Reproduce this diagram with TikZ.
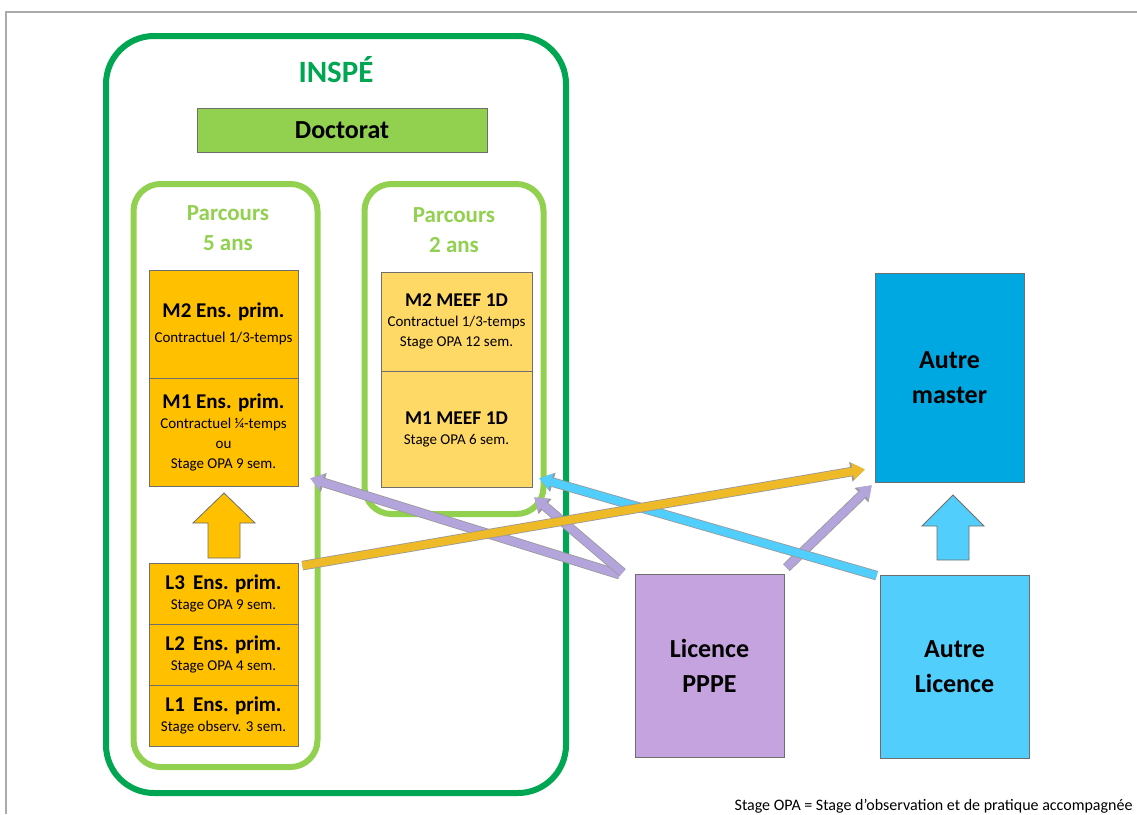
\documentclass[tikz,border=0pt]{standalone}
\usepackage{fontspec}
\setmainfont{Carlito}
\usetikzlibrary{arrows.meta}
\definecolor{inspegreen}{RGB}{0,166,81}
\definecolor{lightgreen}{RGB}{146,208,80}
\definecolor{ensorange}{RGB}{255,192,0}
\definecolor{meeforange}{RGB}{255,217,102}
\definecolor{masterblue}{RGB}{0,168,226}
\definecolor{licblue}{RGB}{82,206,252}
\definecolor{pppeviolet}{RGB}{197,163,222}
\definecolor{violetarrow}{RGB}{180,164,220}
\definecolor{goldarrow}{RGB}{238,186,40}
\definecolor{boxline}{RGB}{110,110,110}
\newcommand{\ttl}[1]{{\fontsize{21}{20}\selectfont\bfseries #1}}
\newcommand{\ttlm}[1]{{\fontsize{19.5}{20}\selectfont\bfseries #1}}

\begin{document}
\begin{tikzpicture}[x=1pt,y=-1pt]
	\tikzstyle{inspeframe} = [draw=inspegreen,line width=6pt,rounded corners=48pt,minimum width=460pt,minimum height=757pt]
	\tikzstyle{parcoursframe} = [draw=lightgreen,line width=6pt,rounded corners=27pt]
	\tikzstyle{ensbox} = [draw=boxline,line width=0.8pt,fill=ensorange,minimum width=149pt,inner sep=0pt,align=center,font=\fontsize{15}{20}\selectfont]
	\tikzstyle{meefbox} = [ensbox,fill=meeforange,minimum width=151pt]
	\tikzstyle{bigbox} = [draw=boxline,line width=0.8pt,minimum width=149pt,minimum height=183pt,align=center,font=\fontsize{26}{35}\selectfont\bfseries]
	\tikzstyle{flow} = [line width=8pt,-{Triangle[length=12pt,width=17pt,line width'=0pt]},preaction={draw=boxline!70,line width=9.6pt,-{Triangle[length=14pt,width=20pt,line width'=0pt]}}]
	\tikzstyle{upblock} = [draw=boxline,line width=0.8pt]
	
	\useasboundingbox (0,0) rectangle (1137,814);
	\draw[black!33,line width=2pt] (1137,12) -- (6,12) -- (6,814);
	
	\node[inspeframe] (inspe) at (336,414.5) {};
	\node[parcoursframe,minimum width=184pt,minimum height=583pt] (p5) at (225.5,475.5) {};
	\node[parcoursframe,minimum width=179pt,minimum height=330pt] (p2) at (454,349) {};
	
	\node[text=inspegreen,font=\fontsize{31}{36}\selectfont\bfseries] (inspetitle) at (336,70) {INSPÉ};
	\node[draw=boxline,line width=0.8pt,fill=lightgreen,minimum width=290pt,minimum height=44pt,font=\fontsize{26}{28}\selectfont\bfseries] (doct) at (342,130) {Doctorat};
	\node[text=lightgreen,align=center,font=\fontsize{23}{30}\selectfont\bfseries] (p5title) at (228,228) {Parcours\\5 ans};
	\node[text=lightgreen,align=center,font=\fontsize{23}{30}\selectfont\bfseries] (p2title) at (454,230) {Parcours\\2 ans};
	
	\node[ensbox,minimum height=108pt] (m2ens) at (223.5,324) {\ttl{M2 Ens. prim.}\\[5pt]Contractuel 1/3-temps};
	\node[ensbox,minimum height=108pt] (m1ens) at (223.5,432) {\ttl{M1 Ens. prim.}\\Contractuel ¼-temps\\ou\\Stage OPA 9 sem.};
	\node[ensbox,minimum height=61pt] (l3ens) at (223.5,593.5) {\ttl{L3\, Ens. prim.}\\Stage OPA 9 sem.};
	\node[ensbox,minimum height=61pt] (l2ens) at (223.5,654.5) {\ttl{L2\, Ens. prim.}\\Stage OPA 4 sem.};
	\node[ensbox,minimum height=61pt] (l1ens) at (223.5,715.5) {\ttl{L1\, Ens. prim.}\\Stage observ. 3 sem.};
	
	\node[meefbox,minimum height=99pt] (m2meef) at (456.5,321.5) {\ttlm{M2 MEEF 1D}\\Contractuel 1/3-temps\\Stage OPA 12 sem.};
	\node[meefbox,minimum height=116pt] (m1meef) at (456.5,429) {\ttlm{M1 MEEF 1D}\\Stage OPA 6 sem.};
	
	\node[bigbox,fill=masterblue,minimum height=209pt] (master) at (949.5,377.5) {Autre\\master};
	\node[bigbox,fill=pppeviolet] (pppe) at (709.5,665.5) {Licence\\PPPE};
	\node[bigbox,fill=licblue] (autrelic) at (954.5,666.5) {Autre\\Licence};
	
	\coordinate (ensup) at (224,493);
	\coordinate (licup) at (953,495);
	\draw[upblock,fill=ensorange] (ensup) -- ++(31,30) -- ++(-15,0) -- ++(0,35) -- ++(-32,0) -- ++(0,-35) -- ++(-15,0) -- cycle;
	\draw[upblock,fill=licblue] (licup) -- ++(31,31) -- ++(-15,0) -- ++(0,34) -- ++(-32,0) -- ++(0,-34) -- ++(-15,0) -- cycle;
	
	\draw[flow,draw=violetarrow] ([xshift=-15pt,yshift=-1pt]pppe.north west) -- ([xshift=12pt,yshift=8pt]m1ens.south east);
	\draw[flow,draw=violetarrow] ([xshift=-12pt,yshift=1pt]pppe.north west) -- ([xshift=2pt,yshift=-10pt]m1meef.south east);
	\draw[flow,draw=violetarrow] ([xshift=2pt,yshift=6pt]pppe.north east) -- ([xshift=-3pt,yshift=-3pt]master.south west);
	\draw[flow,draw=licblue] ([xshift=-3pt,yshift=-1pt]autrelic.north west) -- ([xshift=7pt,yshift=9pt]m1meef.south east);
	\draw[flow,draw=goldarrow] ([xshift=4pt,yshift=-3pt]l3ens.north east) -- ([xshift=-10pt,yshift=13pt]master.south west);
	
	\node[anchor=east,font=\fontsize{16}{19}\selectfont] (note) at (1136,806) {Stage OPA = Stage d’observation et de pratique accompagnée};
\end{tikzpicture}
\end{document}
